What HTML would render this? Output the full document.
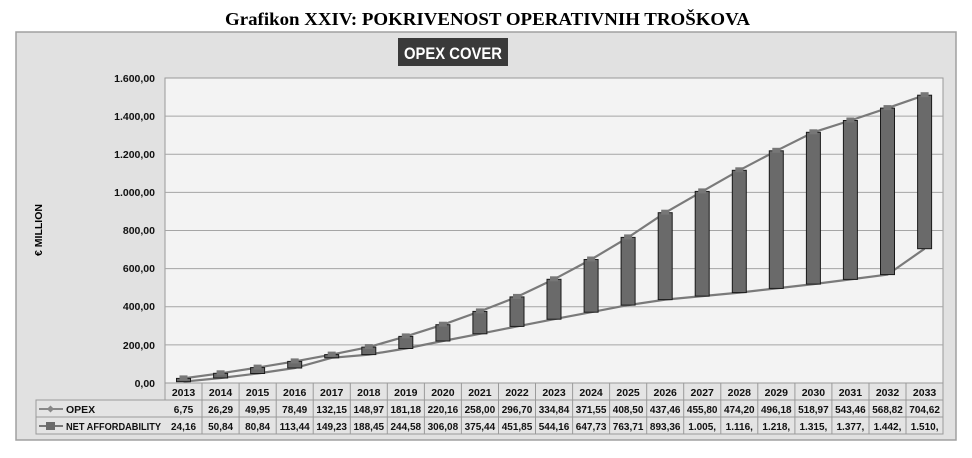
<!DOCTYPE html>
<html><head><meta charset="utf-8"><style>
body{margin:0;background:#fff;}
svg text{font-family:"Liberation Sans","DejaVu Sans",sans-serif;}
</style></head><body>
<svg width="972" height="453" viewBox="0 0 972 453" xmlns="http://www.w3.org/2000/svg">
<text x="225" y="25" textLength="525" lengthAdjust="spacingAndGlyphs" style="font-family:'Liberation Serif',serif;font-weight:bold;font-size:18px">Grafikon XXIV: POKRIVENOST OPERATIVNIH TROŠKOVA</text>
<rect x="16" y="32" width="940" height="408" fill="#e1e1e1" stroke="#a0a0a0" stroke-width="1.5"/>
<rect x="398" y="38" width="110" height="28" fill="#3a3a3a"/>
<text x="404" y="59" textLength="98" lengthAdjust="spacingAndGlyphs" fill="#fff" font-weight="bold" font-size="17">OPEX COVER</text>
<rect x="165" y="78" width="778" height="305" fill="#f3f3f3" stroke="#999" stroke-width="1"/>
<g stroke="#a5a5a5" stroke-width="1">
<line x1="165" y1="116.1" x2="943" y2="116.1"/><line x1="165" y1="154.3" x2="943" y2="154.3"/>
<line x1="165" y1="192.4" x2="943" y2="192.4"/><line x1="165" y1="230.5" x2="943" y2="230.5"/>
<line x1="165" y1="268.6" x2="943" y2="268.6"/><line x1="165" y1="306.8" x2="943" y2="306.8"/>
<line x1="165" y1="344.9" x2="943" y2="344.9"/>
</g>
<g font-size="10.5" font-weight="bold" text-anchor="end" fill="#111">
<text x="155" y="82">1.600,00</text><text x="155" y="120">1.400,00</text><text x="155" y="158">1.200,00</text>
<text x="155" y="196">1.000,00</text><text x="155" y="234">800,00</text><text x="155" y="272">600,00</text>
<text x="155" y="310">400,00</text><text x="155" y="349">200,00</text><text x="155" y="387">0,00</text>
</g>
<text transform="translate(42,230) rotate(-90)" text-anchor="middle" font-size="10.5" font-weight="bold">€ MILLION</text>
<g fill="none" stroke="#7a7a7a" stroke-width="2.2">
<polyline points="183.5,378.4 220.6,373.3 257.6,367.6 294.7,361.4 331.7,354.6 368.8,347.1 405.8,336.4 442.9,324.7 479.9,311.4 517,296.9 554,279.3 591.1,259.5 628.1,237.4 665.2,212.7 702.2,191.4 739.3,170.3 776.3,150.8 813.4,132.3 850.4,120.5 887.5,108.1 924.6,95.2"/>
<polyline points="183.5,381.7 220.6,378 257.6,373.5 294.7,368 331.7,357.8 368.8,354.6 405.8,348.5 442.9,341 479.9,333.8 517,326.4 554,319.2 591.1,312.2 628.1,305.1 665.2,299.6 702.2,296.1 739.3,292.6 776.3,288.4 813.4,284.1 850.4,279.4 887.5,274.6 924.6,248.7"/>
</g>
<g fill="#6a6a6a" stroke="#1a1a1a" stroke-width="1">
<rect x="176.5" y="378.4" width="14" height="3.3"/>
<rect x="213.6" y="373.3" width="14" height="4.7"/>
<rect x="250.6" y="367.6" width="14" height="5.9"/>
<rect x="287.7" y="361.4" width="14" height="6.6"/>
<rect x="324.7" y="354.6" width="14" height="3.2"/>
<rect x="361.8" y="347.1" width="14" height="7.5"/>
<rect x="398.8" y="336.4" width="14" height="12.1"/>
<rect x="435.9" y="324.7" width="14" height="16.3"/>
<rect x="472.9" y="311.4" width="14" height="22.4"/>
<rect x="510" y="296.9" width="14" height="29.5"/>
<rect x="547" y="279.3" width="14" height="39.9"/>
<rect x="584.1" y="259.5" width="14" height="52.7"/>
<rect x="621.1" y="237.4" width="14" height="67.7"/>
<rect x="658.2" y="212.7" width="14" height="86.9"/>
<rect x="695.2" y="191.4" width="14" height="104.7"/>
<rect x="732.3" y="170.3" width="14" height="122.3"/>
<rect x="769.3" y="150.8" width="14" height="137.6"/>
<rect x="806.4" y="132.3" width="14" height="151.8"/>
<rect x="843.4" y="120.5" width="14" height="158.9"/>
<rect x="880.5" y="108.1" width="14" height="166.5"/>
<rect x="917.6" y="95.2" width="14" height="153.5"/>
</g>
<g fill="#777">
<rect x="179.5" y="375.4" width="8" height="5"/><rect x="216.6" y="370.3" width="8" height="5"/><rect x="253.6" y="364.6" width="8" height="5"/><rect x="290.7" y="358.4" width="8" height="5"/><rect x="327.7" y="351.6" width="8" height="5"/><rect x="364.8" y="344.1" width="8" height="5"/><rect x="401.8" y="333.4" width="8" height="5"/><rect x="438.9" y="321.7" width="8" height="5"/><rect x="475.9" y="308.4" width="8" height="5"/><rect x="513" y="293.9" width="8" height="5"/><rect x="550" y="276.3" width="8" height="5"/><rect x="587.1" y="256.5" width="8" height="5"/><rect x="624.1" y="234.4" width="8" height="5"/><rect x="661.2" y="209.7" width="8" height="5"/><rect x="698.2" y="188.4" width="8" height="5"/><rect x="735.3" y="167.3" width="8" height="5"/><rect x="772.3" y="147.8" width="8" height="5"/><rect x="809.4" y="129.3" width="8" height="5"/><rect x="846.4" y="117.5" width="8" height="5"/><rect x="883.5" y="105.1" width="8" height="5"/><rect x="920.6" y="92.2" width="8" height="5"/>
</g>
<!-- table -->
<g fill="#e4e4e4" stroke="#9a9a9a" stroke-width="1">
<rect x="165" y="383" width="778" height="17"/>
<rect x="36" y="400" width="907" height="17"/>
<rect x="36" y="417" width="907" height="17"/>
</g>
<g stroke="#9a9a9a" stroke-width="1">
<line x1="202" y1="383" x2="202" y2="434"/><line x1="239.1" y1="383" x2="239.1" y2="434"/><line x1="276.2" y1="383" x2="276.2" y2="434"/><line x1="313.2" y1="383" x2="313.2" y2="434"/><line x1="350.3" y1="383" x2="350.3" y2="434"/><line x1="387.3" y1="383" x2="387.3" y2="434"/><line x1="424.4" y1="383" x2="424.4" y2="434"/><line x1="461.4" y1="383" x2="461.4" y2="434"/><line x1="498.5" y1="383" x2="498.5" y2="434"/><line x1="535.5" y1="383" x2="535.5" y2="434"/><line x1="572.6" y1="383" x2="572.6" y2="434"/><line x1="609.6" y1="383" x2="609.6" y2="434"/><line x1="646.7" y1="383" x2="646.7" y2="434"/><line x1="683.7" y1="383" x2="683.7" y2="434"/><line x1="720.8" y1="383" x2="720.8" y2="434"/><line x1="757.8" y1="383" x2="757.8" y2="434"/><line x1="794.9" y1="383" x2="794.9" y2="434"/><line x1="831.9" y1="383" x2="831.9" y2="434"/><line x1="869" y1="383" x2="869" y2="434"/><line x1="906" y1="383" x2="906" y2="434"/>
</g>
<line x1="39" y1="409" x2="63" y2="409" stroke="#888" stroke-width="2"/>
<rect x="48" y="406.5" width="5" height="5" fill="#888" transform="rotate(45 50.5 409)"/>
<line x1="39" y1="426" x2="63" y2="426" stroke="#777" stroke-width="2"/>
<rect x="46" y="422" width="9" height="8" fill="#6a6a6a"/>
<g font-size="10.5" font-weight="bold" fill="#111">
<text x="66" y="413">OPEX</text><text x="66" y="430" textLength="95" lengthAdjust="spacingAndGlyphs">NET AFFORDABILITY</text>
</g>
<g font-size="10.5" font-weight="bold" text-anchor="middle" fill="#111">
<text x="183.5" y="396">2013</text><text x="220.6" y="396">2014</text><text x="257.6" y="396">2015</text><text x="294.7" y="396">2016</text><text x="331.7" y="396">2017</text><text x="368.8" y="396">2018</text><text x="405.8" y="396">2019</text><text x="442.9" y="396">2020</text><text x="479.9" y="396">2021</text><text x="517" y="396">2022</text><text x="554" y="396">2023</text><text x="591.1" y="396">2024</text><text x="628.1" y="396">2025</text><text x="665.2" y="396">2026</text><text x="702.2" y="396">2027</text><text x="739.3" y="396">2028</text><text x="776.3" y="396">2029</text><text x="813.4" y="396">2030</text><text x="850.4" y="396">2031</text><text x="887.5" y="396">2032</text><text x="924.6" y="396">2033</text>
</g>
<g font-size="10" font-weight="bold" text-anchor="middle" fill="#111">
<text x="183.5" y="413">6,75</text><text x="220.6" y="413">26,29</text><text x="257.6" y="413">49,95</text><text x="294.7" y="413">78,49</text><text x="331.7" y="413">132,15</text><text x="368.8" y="413">148,97</text><text x="405.8" y="413">181,18</text><text x="442.9" y="413">220,16</text><text x="479.9" y="413">258,00</text><text x="517" y="413">296,70</text><text x="554" y="413">334,84</text><text x="591.1" y="413">371,55</text><text x="628.1" y="413">408,50</text><text x="665.2" y="413">437,46</text><text x="702.2" y="413">455,80</text><text x="739.3" y="413">474,20</text><text x="776.3" y="413">496,18</text><text x="813.4" y="413">518,97</text><text x="850.4" y="413">543,46</text><text x="887.5" y="413">568,82</text><text x="924.6" y="413">704,62</text>
<text x="183.5" y="430">24,16</text><text x="220.6" y="430">50,84</text><text x="257.6" y="430">80,84</text><text x="294.7" y="430">113,44</text><text x="331.7" y="430">149,23</text><text x="368.8" y="430">188,45</text><text x="405.8" y="430">244,58</text><text x="442.9" y="430">306,08</text><text x="479.9" y="430">375,44</text><text x="517" y="430">451,85</text><text x="554" y="430">544,16</text><text x="591.1" y="430">647,73</text><text x="628.1" y="430">763,71</text><text x="665.2" y="430">893,36</text><text x="702.2" y="430">1.005,</text><text x="739.3" y="430">1.116,</text><text x="776.3" y="430">1.218,</text><text x="813.4" y="430">1.315,</text><text x="850.4" y="430">1.377,</text><text x="887.5" y="430">1.442,</text><text x="924.6" y="430">1.510,</text>
</g>
</svg>
</body></html>
